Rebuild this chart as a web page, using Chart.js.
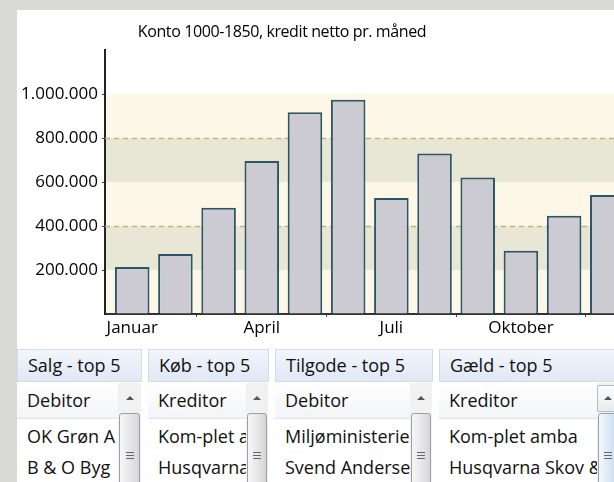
<!DOCTYPE html>
<html>
<head>
<meta charset="utf-8">
<script src="https://cdn.jsdelivr.net/npm/chart.js@4.4.0/dist/chart.umd.min.js"></script>
<style>
    html, body { margin: 0; padding: 0; }
    body {
        width: 614px; height: 482px; overflow: hidden; position: relative;
        background: #d9d9d5;
        font-family: "Open Sans", sans-serif; color: #111;
    }
    .sheet { position: absolute; left: 17px; top: 10px; width: 640px; height: 480px; background: #fff; }
    #chart { position: absolute; left: 0; top: 0; }
    .title {
        position: absolute; left: 82px; top: 20px; width: 400px;
        text-align: center; font-size: 16px; letter-spacing: -0.4px; line-height: 22px; white-space: nowrap; color: #000;
    }
    .panel { position: absolute; top: 349px; height: 140px; overflow: hidden; }
    .panel .head {
        position: absolute; left: 0; right: 0; top: 0; height: 31px;
        background: linear-gradient(#f2f6fc, #e0e8f5);
        border: 1px solid #d3dcea; box-sizing: content-box;
        font-size: 18px; line-height: 31px; padding-left: 10px; white-space: nowrap;
    }
    .panel .colhead {
        position: absolute; left: 0; top: 34px; height: 35px;
        background: linear-gradient(#ffffff, #f3f4f6);
        border-bottom: 1px solid #e2e4e8;
        font-size: 18px; line-height: 35px; padding-left: 10px; white-space: nowrap; overflow: hidden;
    }
    .panel .row {
        position: absolute; left: 0; height: 31px; padding-left: 10px;
        font-size: 18px; line-height: 31px; white-space: nowrap; overflow: hidden;
    }
    .panel .sb { position: absolute; top: 34px; bottom: 0; background: #f1f1f1; }
    .panel .arrow {
        position: absolute; left: 50%; top: 13px; margin-left: -4px;
        width: 0; height: 0; border-left: 4px solid transparent; border-right: 4px solid transparent;
        border-bottom: 4px solid #555;
    }
    .panel .thumb {
        position: absolute; left: 1px; right: 1px; top: 30px; bottom: -10px;
        border: 1px solid #9aa1a8; border-radius: 3px;
        background: linear-gradient(90deg, #f7f7f7, #e4e4e4 60%, #d6d6d6);
    }
    .panel .grip {
        position: absolute; left: 50%; margin-left: -4px; top: 38px; width: 8px; height: 7px;
        background: repeating-linear-gradient(#666 0, #666 1px, transparent 1px, transparent 3px);
    }
    .panel.hot .arrowbox {
        position: absolute; left: 0; right: -2px; top: 2px; height: 25px;
        border: 1px solid #b5bcc4; border-radius: 2px; background: linear-gradient(#fbfbfb, #e9ecef);
    }
    .panel.hot .thumb { background: linear-gradient(90deg, #f4f8fc, #d9e6f3 60%, #c8dbef); border-color: #8aa4c0; }
</style>
</head>
<body>
<div class="sheet"></div>
<canvas id="chart" width="660" height="345"></canvas>
<div class="title">Konto 1000-1850, kredit netto pr. måned</div>

<div class="panel" style="left:17px;width:125px">
    <div class="head">Salg - top 5</div>
    <div class="colhead" style="width:91px">Debitor</div>
    <div class="row" style="top:72px;width:91px">OK Grøn A</div>
    <div class="row" style="top:103px;width:91px">B &amp; O Byg</div>
    <div class="sb" style="left:101px;width:23px"><div class="arrow"></div><div class="thumb"><div class="grip"></div></div></div>
</div>
<div class="panel" style="left:148px;width:121px">
    <div class="head">Køb - top 5</div>
    <div class="colhead" style="width:88px">Kreditor</div>
    <div class="row" style="top:72px;width:88px">Kom-plet amba</div>
    <div class="row" style="top:103px;width:88px">Husqvarna Skov &amp;</div>
    <div class="sb" style="left:98px;width:22px"><div class="arrow"></div><div class="thumb"><div class="grip"></div></div></div>
</div>
<div class="panel" style="left:275px;width:158px">
    <div class="head">Tilgode - top 5</div>
    <div class="colhead" style="width:125px">Debitor</div>
    <div class="row" style="top:72px;width:125px">Miljøministeriet</div>
    <div class="row" style="top:103px;width:125px">Svend Andersen</div>
    <div class="sb" style="left:135px;width:22px"><div class="arrow"></div><div class="thumb"><div class="grip"></div></div></div>
</div>
<div class="panel hot" style="left:439px;width:200px">
    <div class="head">Gæld - top 5</div>
    <div class="colhead" style="width:148px">Kreditor</div>
    <div class="row" style="top:72px;width:148px">Kom-plet amba</div>
    <div class="row" style="top:103px;width:148px">Husqvarna Skov &amp;</div>
    <div class="sb" style="left:158px;width:22px"><div class="arrowbox"></div><div class="arrow"></div><div class="thumb"><div class="grip"></div></div></div>
</div>

<script>
"use strict";

/* data */
var months = ['Januar', 'Februar', 'Marts', 'April', 'Maj', 'Juni', 'Juli', 'August', 'September', 'Oktober', 'November', 'December'];
var kredit = [214000, 273000, 483000, 695000, 917000, 974000, 527000, 729000, 621000, 287000, 447000, 541000];
var yLabels = [200000, 400000, 600000, 800000, 1000000];
var bandEdges = [0, 200000, 400000, 600000, 800000, 1000000];
var dashedAt = [400000, 800000];

var tickFont = { family: '"Open Sans", sans-serif', size: 17 };

function fmt(v) {
    return String(v).replace(/\B(?=(\d{3})+(?!\d))/g, '.');
}

/* striped background + dashed lines behind the bars */
var bandPlugin = {
    id: 'bands',
    beforeDraw: function (chart) {
        var ctx = chart.ctx, a = chart.chartArea, y = chart.scales.y;
        ctx.save();
        for (var i = 0; i < bandEdges.length - 1; i++) {
            var top = y.getPixelForValue(bandEdges[i + 1]);
            var bot = y.getPixelForValue(bandEdges[i]);
            ctx.fillStyle = i % 2 ? '#e8e6d5' : '#fcf7e6';
            ctx.fillRect(a.left, top, a.right - a.left, bot - top);
        }
        ctx.restore();
    },
    beforeDatasetsDraw: function (chart) {
        var ctx = chart.ctx, a = chart.chartArea, y = chart.scales.y;
        ctx.save();
        ctx.strokeStyle = '#c2b47a';
        ctx.lineWidth = 1.5;
        ctx.setLineDash([5, 4]);
        dashedAt.forEach(function (v) {
            var py = Math.round(y.getPixelForValue(v)) + 0.5;
            ctx.beginPath();
            ctx.moveTo(a.left, py);
            ctx.lineTo(a.right, py);
            ctx.stroke();
        });
        ctx.restore();
    }
};

var ctx = document.getElementById('chart').getContext('2d');
var chart = new Chart(ctx, {
    type: 'bar',
    data: {
        datasets: [{
            data: kredit.map(function (v, i) { return { x: i, y: v }; }),
            backgroundColor: '#cccbd1',
            borderColor: '#2c5568',
            borderWidth: 2,
            borderSkipped: 'start',
            categoryPercentage: 1,
            barPercentage: 0.8
        }]
    },
    options: {
        responsive: false,
        animation: false,
        layout: { padding: { top: 50, left: 0, right: 0, bottom: 0 } },
        plugins: {
            legend: { display: false },
            tooltip: { enabled: false }
        },
        scales: {
            x: {
                type: 'linear',
                min: -0.63,
                max: 12.22,
                offset: false,
                afterFit: function (s) { s.height = 31; },
                ticks: {
                    stepSize: 3,
                    includeBounds: false,
                    autoSkip: false,
                    maxRotation: 0,
                    padding: 1,
                    color: '#000',
                    font: tickFont,
                    callback: function (v) { return months[v] || ''; }
                },
                grid: { drawOnChartArea: false, tickLength: 3, tickColor: '#444' },
                border: { color: '#333', width: 2 }
            },
            y: {
                min: 0,
                max: 1200000,
                afterFit: function (s) { s.width = 105; },
                ticks: {
                    stepSize: 200000,
                    padding: 4,
                    color: '#000',
                    font: tickFont,
                    callback: function (v) { return yLabels.indexOf(v) >= 0 ? fmt(v) : ''; }
                },
                grid: {
                    drawOnChartArea: false,
                    tickLength: 3,
                    tickColor: function (c) { return yLabels.indexOf(c.tick.value) >= 0 ? '#444' : 'rgba(0,0,0,0)'; }
                },
                border: { color: '#222', width: 2 }
            }
        }
    },
    plugins: [bandPlugin]
});
</script>
</body>
</html>
